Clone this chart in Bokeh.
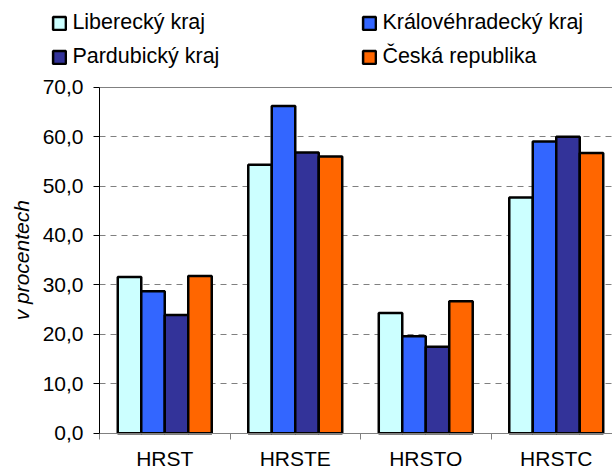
import math
from bokeh.plotting import figure
from bokeh.models import Range1d, FixedTicker, Legend, LegendItem, Label, Grid
from bokeh.embed import file_html
from bokeh.resources import INLINE

# ---- data ----
categories = ["HRST", "HRSTE", "HRSTO", "HRSTC"]
series_names = ["Liberecký kraj", "Královéhradecký kraj", "Pardubický kraj", "Česká republika"]
liberecky = [31.6, 54.3, 24.3, 47.7]
kralovehradecky = [28.7, 66.2, 19.6, 59.0]
pardubicky = [23.9, 56.8, 17.5, 60.0]
ceska_republika = [31.8, 56.0, 26.7, 56.7]
y_ticks = [0, 10, 20, 30, 40, 50, 60, 70]
y_grid_ticks = [10, 20, 30, 40, 50, 60]
y_axis_title = "v procentech"

series_values = [liberecky, kralovehradecky, pardubicky, ceska_republika]
colors = ["#CCFFFF", "#3366FF", "#333399", "#FF6600"]

# ---- layout (canvas pixels) ----
W, H = 612, 471
X0_PX = 99.0        # canvas x of the value axis
Y0_PX = 432.7       # canvas y of 0
Y70_PX = 86.7       # canvas y of 70
CAT_PX = 130.5      # width of one category
y_max = 70
ppu = (Y0_PX - Y70_PX) / y_max
x_start = -X0_PX / CAT_PX
x_end = (W - X0_PX) / CAT_PX
y_start = -(H - Y0_PX) / ppu
y_end = y_max + Y70_PX / ppu
bar_w = 0.18
FONT = "Liberation Sans"
FS = "21px"
LEG_FS = "21.5px"
GRID_COLOR = "#808080"
DASH = "6 5"

p = figure(width=W, height=H, output_backend="svg", toolbar_location=None,
           x_range=Range1d(x_start, x_end), y_range=Range1d(y_start, y_end),
           min_border=0)
p.outline_line_color = None
p.background_fill_color = "white"
p.border_fill_color = "white"

# grid
p.xgrid.visible = False
p.ygrid.ticker = FixedTicker(ticks=y_grid_ticks)
p.ygrid.grid_line_color = GRID_COLOR
p.ygrid.grid_line_dash = DASH
p.ygrid.grid_line_width = 1
top_grid = Grid(dimension=1, ticker=FixedTicker(ticks=[y_max]),
                grid_line_color=GRID_COLOR, grid_line_width=1)
p.add_layout(top_grid)
has_cross = "cross_bounds" in top_grid.properties()
if has_cross:
    p.ygrid.cross_bounds = (0, x_end)
    top_grid.cross_bounds = (0, x_end)
else:
    p.ygrid.visible = False
    top_grid.visible = False
    gy = y_grid_ticks
    p.segment(x0=[0] * len(gy), x1=[x_end] * len(gy), y0=gy, y1=gy,
              line_color=GRID_COLOR, line_dash=DASH, line_width=1, level="underlay")
    p.segment(x0=[0], x1=[x_end], y0=[y_max], y1=[y_max],
              line_color=GRID_COLOR, line_width=1, level="underlay")

# bars
renderers = []
n = len(series_values)
for j, vals in enumerate(series_values):
    xs = [i + 0.5 + (j - (n - 1) / 2) * bar_w for i in range(len(categories))]
    r = p.vbar(x=xs, top=vals, bottom=0, width=bar_w, fill_color=colors[j],
               line_color="black", line_width=2.5)
    renderers.append(r)

# x axis
xa = p.xaxis[0]
xa.fixed_location = 0
xa.bounds = (0, x_end)
xa.ticker = FixedTicker(ticks=[i + 0.5 for i in range(len(categories))],
                        minor_ticks=list(range(len(categories))))
xa.major_label_overrides = {i + 0.5: c for i, c in enumerate(categories)}
xa.major_tick_out = 0
xa.major_tick_in = 0
xa.minor_tick_out = 6
xa.minor_tick_in = 0
xa.minor_tick_line_color = GRID_COLOR
xa.axis_line_color = GRID_COLOR
xa.major_label_standoff = 8
xa.major_label_text_font = FONT
xa.major_label_text_font_size = FS
xa.major_label_text_color = "black"

# y axis
ya = p.yaxis[0]
ya.fixed_location = 0
ya.ticker = FixedTicker(ticks=y_ticks)
ya.major_label_overrides = {t: f"{t:.1f}".replace(".", ",") for t in y_ticks}
ya.bounds = (0, y_max)
ya.axis_line_color = "black"
ya.major_tick_line_color = "black"
ya.major_tick_out = 6
ya.major_tick_in = 0
ya.minor_tick_line_color = None
ya.major_label_standoff = 10
ya.major_label_text_font = FONT
ya.major_label_text_font_size = FS
ya.major_label_text_color = "black"

p.add_layout(Label(x=21, y=y_max / 2, x_units="screen", y_units="data",
                   text=y_axis_title, angle=math.pi / 2, text_align="center",
                   text_baseline="middle", text_font=FONT, text_font_size=FS,
                   text_font_style="italic", text_color="black"))

# legend: two columns
def make_legend(idx, loc):
    leg = Legend(items=[LegendItem(label=series_names[i], renderers=[renderers[i]]) for i in idx],
                 location=loc, orientation="vertical")
    leg.border_line_color = None
    leg.background_fill_alpha = 0
    leg.padding = 0
    leg.margin = 0
    leg.spacing = 9
    leg.glyph_width = 16
    leg.glyph_height = 16
    leg.label_standoff = 5
    leg.label_text_font = FONT
    leg.label_text_font_size = LEG_FS
    leg.label_text_color = "black"
    return leg

p.add_layout(make_legend([0, 2], (51.4, 402)))
p.add_layout(make_legend([1, 3], (361.4, 402)))

open("out.html", "w").write(file_html(p, INLINE))
